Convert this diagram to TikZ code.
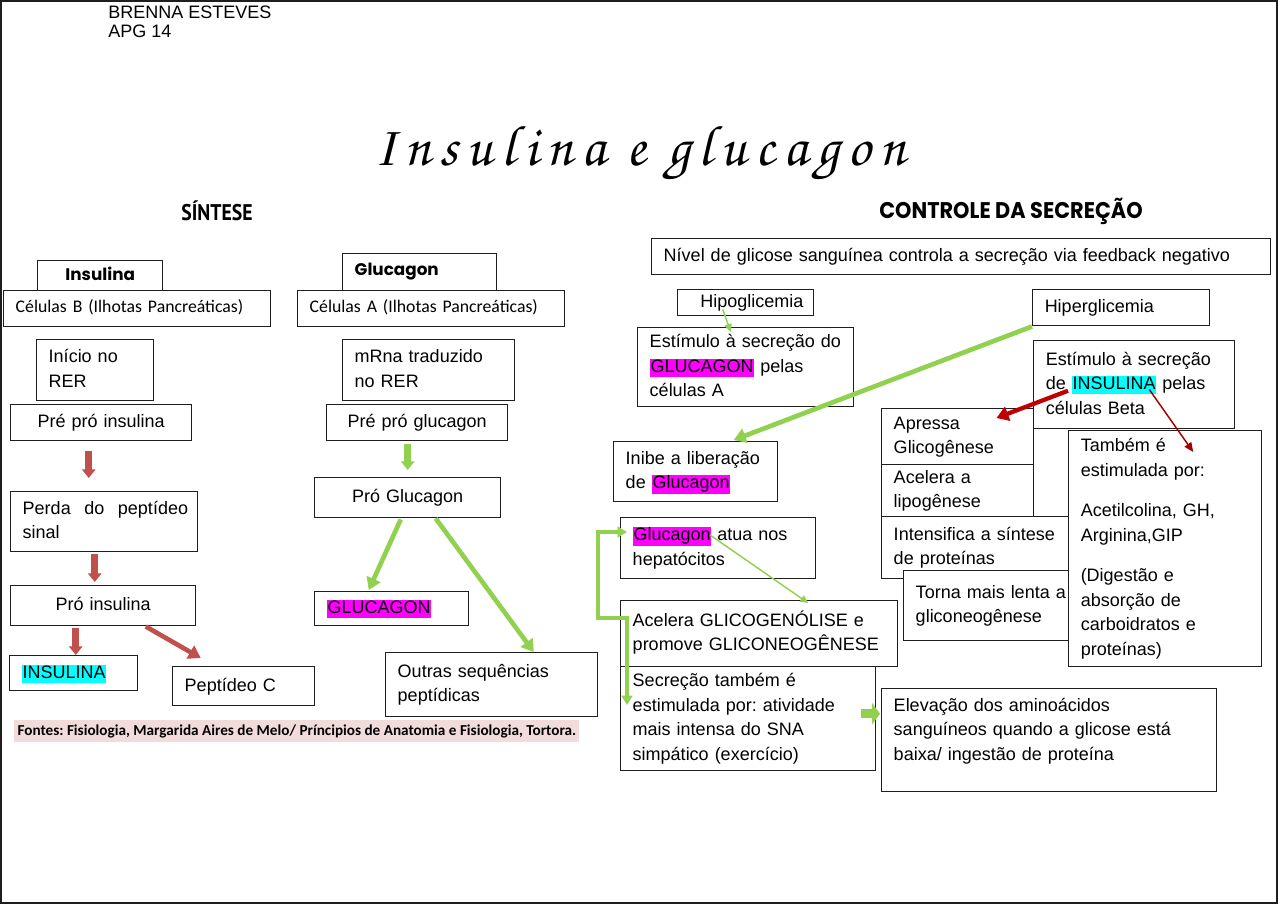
\documentclass[tikz,border=0pt]{standalone}
\usepackage{graphicx}
\usepackage{fontspec}
\setmainfont{Liberation Sans}
\newfontfamily\calfont{Carlito}
\newfontfamily\popfont{Poppins}
\newfontfamily\ptfont{PT Sans}
\newfontfamily\titlefont[LetterSpace=15]{texgyrechorus-mediumitalic.otf}
\usetikzlibrary{arrows.meta,calc}
\frenchspacing
\definecolor{redarr}{RGB}{192,80,77}
\definecolor{grn}{RGB}{146,208,80}
\definecolor{dred}{RGB}{192,0,0}
\definecolor{pinkbg}{RGB}{242,220,219}
\definecolor{mag}{RGB}{255,0,255}
\definecolor{cyn}{RGB}{0,255,255}
\definecolor{edge}{RGB}{30,30,30}
\newcommand\bodyfont{\fontsize{13.5pt}{18.4pt}\selectfont\frenchspacing}
\newcommand\calbody{\calfont\fontsize{13.3pt}{15pt}\selectfont}
\newcommand\tabfont{\popfont\bfseries\fontsize{12.6pt}{14pt}\selectfont}
\newcommand\hlm[1]{{\setlength\fboxsep{0.6pt}\colorbox{mag}{\rule[-3pt]{0pt}{12.6pt}#1}}}
\newcommand\hlc[1]{{\setlength\fboxsep{0.6pt}\colorbox{cyn}{\rule[-3pt]{0pt}{12.6pt}#1}}}
% \bx[opts]{name}{x1}{y1}{x2}{y2}{text}
\newcommand\bx[7][]{%
 \pgfmathsetlengthmacro\bxw{(#5-#3)*0.75pt}%
 \pgfmathsetlengthmacro\bxh{(#6-#4)*0.75pt}%
 \pgfmathsetlengthmacro\bxt{(#5-#3)*0.75pt-18pt}%
 \node[box,anchor=north west,minimum width=\bxw,minimum height=\bxh,text width=\bxt,#1] (#2) at (#3,#4) {\begin{tabular}{@{}l@{}}#7\end{tabular}};}
\tikzset{
 box/.style={draw=edge,line width=1.1pt,fill=white,inner xsep=9pt,inner ysep=0pt,align=left,font=\bodyfont},
 cbox/.style={align=center},
 blockred/.style={draw=redarr,line width=5pt,-{Triangle[width=10pt,length=6.5pt]}},
 diagred/.style={draw=redarr,line width=3.5pt,-{Triangle[width=11pt,length=9pt]}},
 blockgrn/.style={draw=grn,line width=5pt,-{Triangle[width=10pt,length=6.5pt]}},
 diaggrn/.style={draw=grn,line width=3.5pt,-{Triangle[width=11pt,length=9pt]}},
 thingrn/.style={draw=grn,line width=1.1pt,-{Triangle[width=5.5pt,length=6pt]}},
 thickdred/.style={draw=dred,line width=3.2pt,-{Triangle[width=11pt,length=9pt]}},
 thindred/.style={draw=dred!85!black,line width=1.1pt,-{Triangle[width=6pt,length=7pt]}},
 bracket/.style={draw=grn,line width=2.8pt,{Triangle[width=8pt,length=7pt]}-{Triangle[width=8pt,length=7pt]}},
 blockgrnb/.style={draw=grn,line width=7pt,-{Triangle[width=16pt,length=6pt]}},
}
\begin{document}
\begin{tikzpicture}[x=0.75pt,y=-0.75pt]
\useasboundingbox (0,0) rectangle (1280,905);
\fill[white] (0,0) rectangle (1280,905);
\draw[edge,line width=1.1pt] (1,1) rectangle (1277,903);
% header
\node[anchor=north west,inner sep=0pt,align=left,font=\fontsize{13.5pt}{14.25pt}\selectfont] (author) at (108,6) {BRENNA ESTEVES\\APG 14};
\node[anchor=base,inner sep=0pt] (title) at (640,166) {\titlefont\fontsize{43pt}{46pt}\selectfont Insulina e glucagon};
\node[inner sep=0pt] (sintese) at (217,211) {\ptfont\bfseries\fontsize{17pt}{20pt}\selectfont\scalebox{0.87}[1]{SÍNTESE}};
\node[inner sep=0pt] (controle) at (1011,211) {\popfont\bfseries\fontsize{17pt}{20pt}\selectfont\scalebox{0.92}[1]{CONTROLE DA SECREÇÃO}};
% ---- synthesis
\bx[cbox,font=\tabfont]{instab}{37}{260}{162}{291}{Insulina}
\bx[font=\tabfont]{glutab}{342}{253}{496}{290}{Glucagon}
\bx[font=\calbody]{celB}{3}{290}{270}{326}{Células B (Ilhotas Pancreáticas)}
\bx[font=\calbody]{celA}{297}{290}{564}{326}{Células A (Ilhotas Pancreáticas)}
\bx{inicio}{36}{339}{153}{400}{Início no\\RER}
\bx{mrna}{342}{339}{514}{400}{mRna traduzido\\no RER}
\bx[cbox]{ppi}{10}{404}{191}{440}{Pré pró insulina}
\bx[cbox]{ppg}{326}{404}{507}{440}{Pré pró glucagon}
\bx{perda}{10}{491}{197}{551}{\hbox to 124pt{Perda\hfill do\hfill peptídeo}\\sinal}
\bx[cbox]{proins}{10}{585}{195}{625}{Pró insulina}
\bx[cbox]{proglu}{314}{477}{500}{517}{Pró Glucagon}
\bx{insul}{9}{655}{137}{690}{\hlc{INSULINA}}
\bx{pepC}{172}{666}{314}{705}{Peptídeo C}
\bx{glucg}{314}{591}{468}{625}{\hlm{GLUCAGON}}
\bx{outras}{385}{652}{597}{716}{Outras sequências\\peptídicas}
\node[anchor=west,fill=pinkbg,inner xsep=2.5pt,minimum height=16.5pt,font=\calfont\bfseries\fontsize{11.4pt}{13pt}\selectfont] (fontes) at (14,731) {Fontes: Fisiologia, Margarida Aires de Melo/ Príncipios de Anatomia e Fisiologia, Tortora.};
\draw[blockred] ($(ppi.south)+(-12.5,10)$) -- ($(perda.north)+(-15.5,-13)$);
\draw[blockred] ($(perda.south)+(-9.5,2)$) -- ($(proins.north)+(-8.5,-3)$);
\draw[blockred] ($(proins.south)+(-27.5,2)$) -- ($(insul.north)+(2,0)$);
\draw[diagred] ($(proins.south)+(42.5,0)$) -- ($(pepC.north)+(-43,-8)$);
\draw[blockgrn] ($(ppg.south)+(-9.5,3)$) -- ($(proglu.north)+(0,-7)$);
\draw[diaggrn] ($(proglu.south)+(-7,1)$) -- ($(glucg.north)+(-23,-1)$);
\draw[diaggrn] ($(proglu.south)+(28,0)$) -- ($(outras.north)+(42,0)$);
% ---- control
\bx{nivel}{651}{238}{1270}{274}{Nível de glicose sanguínea controla a secreção via feedback negativo}
\bx{hipo}{677}{289}{813}{315}{\hspace*{8pt}Hipoglicemia}
\bx{estG}{637}{327}{853}{406}{Estímulo à secreção do\\\hlm{GLUCAGON} pelas\\células A}
\bx{hiper}{1032}{289}{1209}{325}{Hiperglicemia}
\bx{estI}{1033}{340}{1234}{428}{Estímulo à secreção\\de \hlc{INSULINA} pelas\\células Beta}
\bx{inibe}{613}{441}{777}{501}{Inibe a liberação\\de \hlm{Glucagon}}
\bx{apressa}{881}{408}{1033}{464}{Apressa\\Glicogênese}
\bx{acelera}{881}{464}{1033}{516}{Acelera a\\lipogênese}
\bx{intens}{881}{516}{1100}{578}{Intensifica a síntese\\de proteínas}
\bx{torna}{903}{570}{1100}{640}{Torna mais lenta a\\gliconeogênese}
\bx{tambem}{1068}{430}{1261}{666}{Também é\\estimulada por:\\[12pt]Acetilcolina, GH,\\Arginina,GIP\\[12pt](Digestão e\\absorção de\\carboidratos e\\proteínas)}
\bx{glAtua}{620}{517}{815}{578}{\hlm{Glucagon} atua nos\\hepatócitos}
\bx{aceleraG}{620}{600}{897}{666}{Acelera GLICOGENÓLISE e\\promove GLICONEOGÊNESE}
\bx{secrecao}{620}{666}{875}{770}{Secreção também é\\estimulada por: atividade\\mais intensa do SNA\\simpático (exercício)}
\bx{elev}{881}{688}{1216}{791}{Elevação dos aminoácidos\\sanguíneos quando a glicose está\\baixa/ ingestão de proteína\\[-4pt]~}
\draw[thingrn] ($(hipo.south)+(-23,-7)$) -- ($(estG.north)+(-15,5)$);
\draw[diaggrn] (hiper.south west) -- ($(inibe.north)+(38,-1)$);
\draw[thickdred] ($(estI.west)+(35,6)$) -- ($(apressa.north east)+(-38,10)$);
\draw[thindred] ($(estI.south)+(15,-40)$) -- ($(tambem.north)+(28,22)$);
\draw[thingrn] ($(glAtua.north west)+(90,18)$) -- ($(aceleraG.north)+(49,3)$);
\draw[bracket] ($(secrecao.north west)+(7,39)$) -- ++(0,-87) -- ++(-29,0) |- ($(glAtua.north west)+(7,15)$);
\draw[blockgrnb] ($(secrecao.east)+(-15,-5)$) -- ($(elev.west)+(-1,-26.5)$);
\end{tikzpicture}
\end{document}
